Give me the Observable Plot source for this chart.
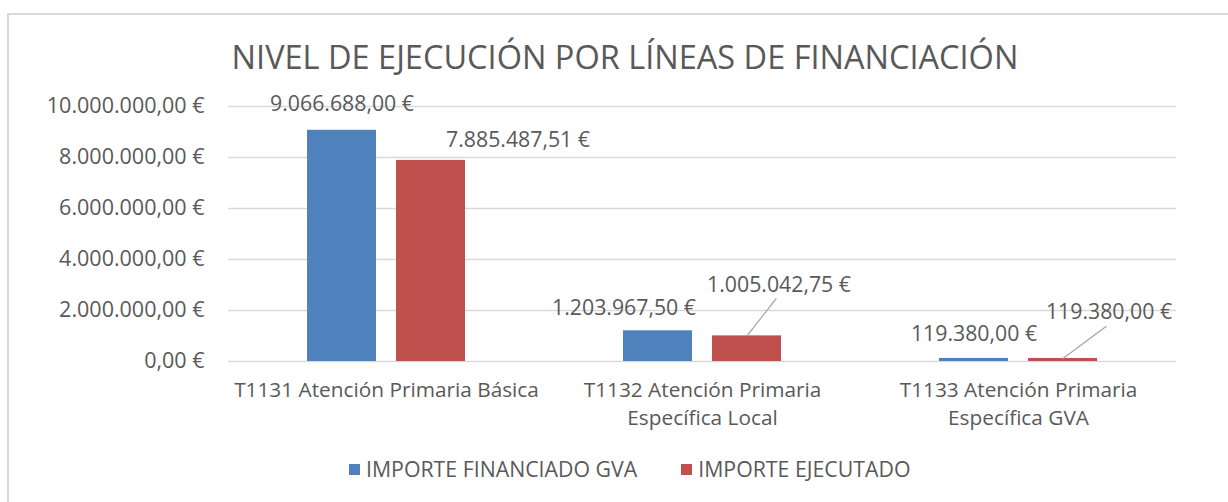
<!DOCTYPE html>
<html><head><meta charset="utf-8">
<script src="https://cdn.jsdelivr.net/npm/d3@7"></script>
<script src="https://cdn.jsdelivr.net/npm/@observablehq/plot@0.6"></script>
<style>
body{margin:0;background:#fff;width:1228px;height:502px;overflow:hidden;position:relative;font-family:"Open Sans",sans-serif;color:#595959}
#frame{position:absolute;left:7px;top:13px;width:1240px;height:520px;border-left:2px solid #d9d9d9;border-top:2px solid #d9d9d9;box-sizing:border-box}
#title{position:absolute;left:0;width:1250px;text-align:center;top:35px;font-size:32.5px;line-height:44px;white-space:nowrap}
#chart{position:absolute;left:0;top:0}
#legend{position:absolute;left:349px;top:454px;display:flex;align-items:center;font-size:21.3px;line-height:30px;white-space:nowrap}
#legend .item{display:flex;align-items:center;margin-right:44px}
#legend .sw{width:11px;height:11px;margin-right:6px}
</style></head>
<body>
<div id="frame"></div>
<div id="chart"></div>
<div id="title"></div>
<div id="legend"></div>
<script>
const title = "NIVEL DE EJECUCIÓN POR LÍNEAS DE FINANCIACIÓN";
const categories = ["T1131 Atención Primaria Básica", "T1132 Atención Primaria\nEspecífica Local", "T1133 Atención Primaria\nEspecífica GVA"];
const series = ["IMPORTE FINANCIADO GVA", "IMPORTE EJECUTADO"];
const financiado = [9066688.00, 1203967.50, 119380.00];
const ejecutado = [7885487.51, 1005042.75, 119380.00];
const yTicks = [0, 2000000, 4000000, 6000000, 8000000, 10000000];
const colors = ["#4f81bd", "#c0504d"];

const data = categories.flatMap((c, i) => [
  {cat: c, serie: series[0], value: financiado[i]},
  {cat: c, serie: series[1], value: ejecutado[i]}
]);

// label placement (pixels from bar top-centre) and whether a leader line is drawn
const labelOffsets = [[0, -26, false], [87, -20, false], [-34, -23, false], [32, -51, true], [0, -24, false], [46, -46, true]];

const loc = d3.formatLocale({decimal: ",", thousands: ".", grouping: [3], currency: ["", " €"]});
const fmt = v => loc.format(",.2f")(v) + " €";

const lineShape = {draw(context, l) { context.moveTo(0, 0); context.lineTo(0, -l); }};

const labelMarks = data.map((d, k) => Plot.text([d], {
  fx: "cat", x: "serie", y: "value", text: d => fmt(d.value),
  dx: labelOffsets[k][0], dy: labelOffsets[k][1], fill: "#595959", fontSize: 21.3
}));
const leaderMarks = data.flatMap((d, k) => {
  const [ox, oy, lead] = labelOffsets[k];
  if (!lead) return [];
  const ex = ox - 3, ey = oy + 14;
  return [Plot.vector([d], {
    fx: "cat", x: "serie", y: "value", anchor: "start", shape: lineShape,
    length: Math.hypot(ex, ey), rotate: Math.atan2(ex, -ey) * 180 / Math.PI,
    stroke: "#a6a6a6", strokeWidth: 1.3
  })];
});

const chart = Plot.plot({
  width: 1228, height: 440,
  marginLeft: 227, marginRight: 51, marginTop: 106, marginBottom: 79,
  style: {fontFamily: "Open Sans", fontSize: "20px", color: "#595959", background: "transparent"},
  fx: {domain: categories, padding: 0, axis: null},
  x: {domain: series, paddingInner: 0.222, paddingOuter: 0.87, axis: null},
  y: {domain: [0, 10000000], axis: null},
  color: {domain: series, range: colors},
  marks: [
    Plot.gridY(yTicks, {stroke: "#d9d9d9", strokeOpacity: 1, strokeWidth: 1.5}),
    Plot.axisY(yTicks, {tickFormat: fmt, tickSize: 0, tickPadding: 24, fontSize: 21.5, fill: "#595959", label: null}),
    Plot.axisFx({anchor: "bottom", tickSize: 0, tickPadding: 16, fontSize: 20.8, lineHeight: 1.33, fill: "#595959", label: null}),
    Plot.barY(data, {fx: "cat", x: "serie", y: "value", fill: "serie"}),
    ...leaderMarks,
    ...labelMarks
  ]
});
document.getElementById("chart").appendChild(chart);
document.getElementById("title").textContent = title;
const legend = document.getElementById("legend");
series.forEach((s, i) => {
  const it = document.createElement("div"); it.className = "item";
  const sw = document.createElement("div"); sw.className = "sw"; sw.style.background = colors[i];
  const t = document.createElement("span"); t.textContent = s;
  it.appendChild(sw); it.appendChild(t); legend.appendChild(it);
});
</script>
</body></html>
